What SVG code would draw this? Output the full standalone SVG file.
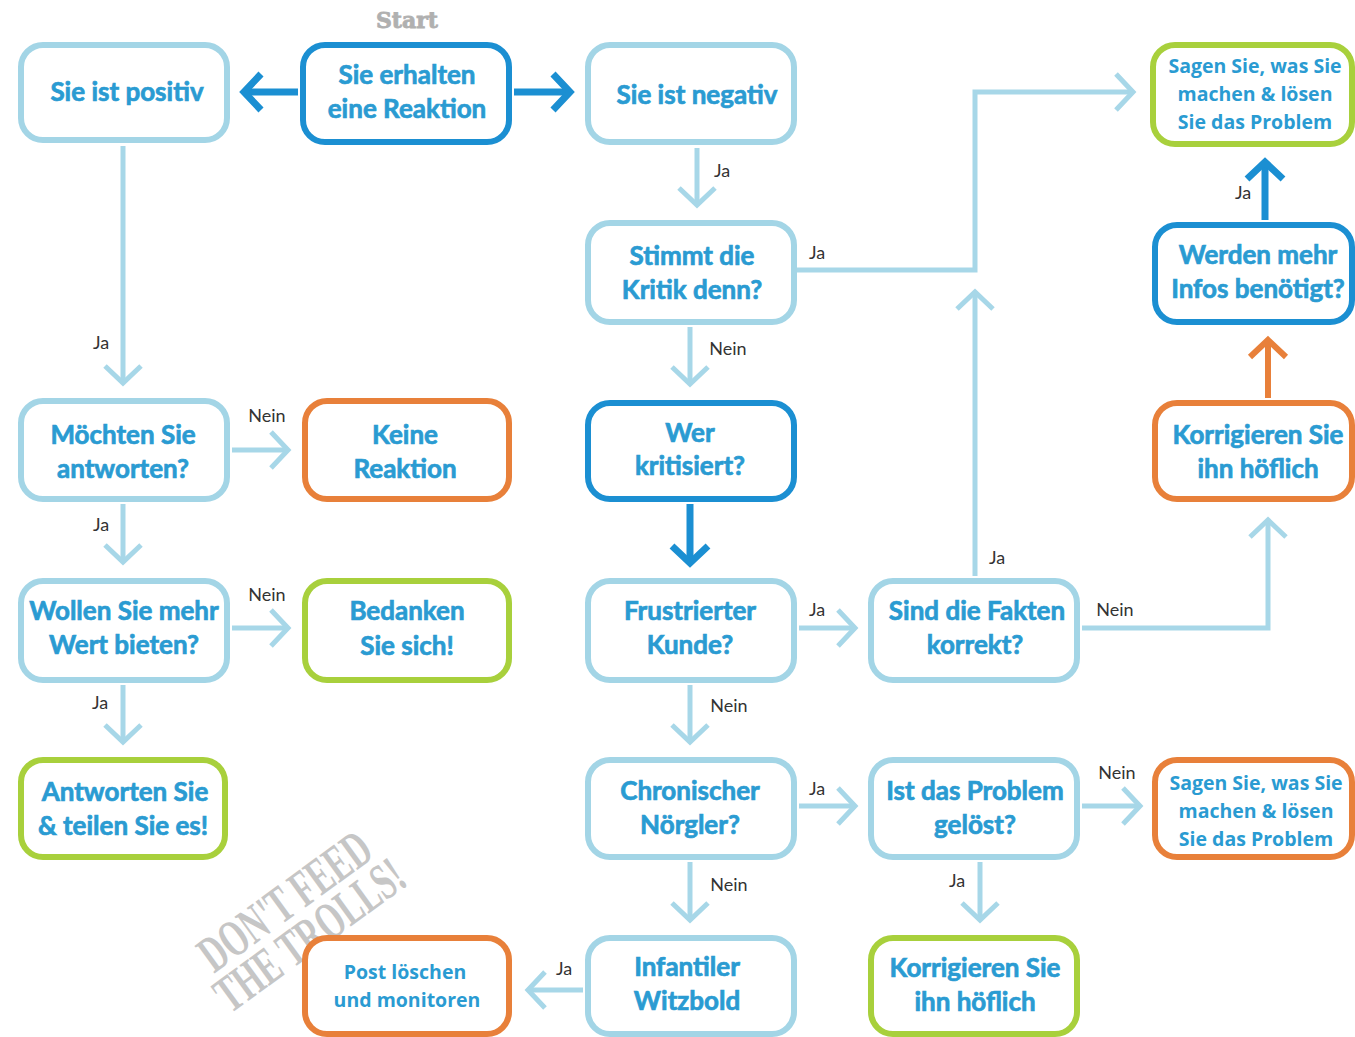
<svg xmlns="http://www.w3.org/2000/svg" width="1355" height="1037" viewBox="0 0 1355 1037">
<style>
.box{fill:#fff;stroke-width:6}
.lb{stroke:#a3d5e6}
.db{stroke:#1b8fd2}
.or{stroke:#e8803a}
.gr{stroke:#a8d03c}
.t{font-family:Lato,"Open Sans",sans-serif;font-weight:bold;font-size:26px;fill:#2a9bd2;stroke:#2a9bd2;stroke-width:0.7;text-anchor:middle}
.s{font-family:"Open Sans",sans-serif;font-weight:bold;font-size:19.5px;fill:#2a9bd2;text-anchor:middle}
.lab{font-family:Lato,sans-serif;font-size:18px;fill:#333;text-anchor:middle}
.c{fill:none;stroke-linejoin:miter}
.cl{stroke:#a7d7e8;stroke-width:5}
.cd{stroke:#1b8fd2;stroke-width:7}
.co{stroke:#e8803a;stroke-width:6}
</style>
<defs>
<marker id="ml" markerUnits="userSpaceOnUse" viewBox="-24 -24 30 48" markerWidth="30" markerHeight="48" refX="0" refY="0" orient="auto"><path d="M-17,-18 L0,0 L-17,18" fill="none" stroke="#a7d7e8" stroke-width="5"/></marker>
<marker id="md" markerUnits="userSpaceOnUse" viewBox="-24 -24 30 48" markerWidth="30" markerHeight="48" refX="0" refY="0" orient="auto"><path d="M-17,-18 L0,0 L-17,18" fill="none" stroke="#1b8fd2" stroke-width="7"/></marker>
<marker id="mo" markerUnits="userSpaceOnUse" viewBox="-24 -24 30 48" markerWidth="30" markerHeight="48" refX="0" refY="0" orient="auto"><path d="M-17,-18 L0,0 L-17,18" fill="none" stroke="#e8803a" stroke-width="6"/></marker>
</defs>
<rect width="1355" height="1037" fill="#fff"/>
<text x="407" y="28" font-family="'DejaVu Serif',serif" font-weight="bold" font-size="22" fill="#b0b0b0" stroke="#b0b0b0" stroke-width="0.8" text-anchor="middle">Start</text>
<g id="watermark" transform="translate(295,915) rotate(-36)" fill="#b3b3b3" opacity="0.75" font-family="'Liberation Serif',serif" font-weight="bold" font-size="52" text-anchor="middle">
<text x="0" y="0" textLength="200" lengthAdjust="spacingAndGlyphs">DON'T FEED</text>
<text x="0" y="42" textLength="222" lengthAdjust="spacingAndGlyphs">THE TROLLS!</text>
</g>
<g id="connectors" class="c">
<path class="cd" d="M298,92 H244" marker-end="url(#md)"/>
<path class="cd" d="M514,92 H570" marker-end="url(#md)"/>
<path class="cl" d="M123,146 V383" marker-end="url(#ml)"/>
<path class="cl" d="M697,148 V205" marker-end="url(#ml)"/>
<path class="cl" d="M797,270 H975 V92 H1133" marker-end="url(#ml)"/>
<path class="cl" d="M690,327 V384" marker-end="url(#ml)"/>
<path class="cd" d="M690,504 V563" marker-end="url(#md)"/>
<path class="cl" d="M232,450 H288" marker-end="url(#ml)"/>
<path class="cl" d="M123,504 V562" marker-end="url(#ml)"/>
<path class="cl" d="M232,628 H288" marker-end="url(#ml)"/>
<path class="cl" d="M123,685 V742" marker-end="url(#ml)"/>
<path class="cl" d="M799,628 H855" marker-end="url(#ml)"/>
<path class="cl" d="M975,576 V292" marker-end="url(#ml)"/>
<path class="cl" d="M1082,628 H1268 V520" marker-end="url(#ml)"/>
<path class="co" d="M1268,398 V340" marker-end="url(#mo)"/>
<path class="cd" d="M1265,220 V162" marker-end="url(#md)"/>
<path class="cl" d="M690,685 V742" marker-end="url(#ml)"/>
<path class="cl" d="M799,806 H855" marker-end="url(#ml)"/>
<path class="cl" d="M1082,806 H1140" marker-end="url(#ml)"/>
<path class="cl" d="M980,862 V920" marker-end="url(#ml)"/>
<path class="cl" d="M690,862 V920" marker-end="url(#ml)"/>
<path class="cl" d="M583,990 H528" marker-end="url(#ml)"/>
<text class="lab" x="101" y="349">Ja</text>
<text class="lab" x="722" y="177">Ja</text>
<text class="lab" x="817" y="259">Ja</text>
<text class="lab" x="728" y="355">Nein</text>
<text class="lab" x="1243" y="199">Ja</text>
<text class="lab" x="267" y="422">Nein</text>
<text class="lab" x="101" y="531">Ja</text>
<text class="lab" x="267" y="601">Nein</text>
<text class="lab" x="100" y="709">Ja</text>
<text class="lab" x="817" y="616">Ja</text>
<text class="lab" x="997" y="564">Ja</text>
<text class="lab" x="1115" y="616">Nein</text>
<text class="lab" x="729" y="712">Nein</text>
<text class="lab" x="817" y="795">Ja</text>
<text class="lab" x="1117" y="779">Nein</text>
<text class="lab" x="957" y="887">Ja</text>
<text class="lab" x="729" y="891">Nein</text>
<text class="lab" x="564" y="975">Ja</text>
</g>
<g id="n-positiv"><rect class="box lb" x="21" y="45" width="206" height="95" rx="22"/><text class="t" x="127" y="101">Sie ist positiv</text></g>
<g id="n-start"><rect class="box db" x="303" y="45" width="206" height="97" rx="22"/><text class="t" x="407" y="84">Sie erhalten</text><text class="t" x="407" y="118">eine Reaktion</text></g>
<g id="n-negativ"><rect class="box lb" x="588" y="45" width="206" height="97" rx="22"/><text class="t" x="697" y="104">Sie ist negativ</text></g>
<g id="n-sagen1"><rect class="box gr" x="1153" y="45" width="199" height="99" rx="22"/><text class="s" x="1255" y="73">Sagen Sie, was Sie</text><text class="s" x="1255" y="101">machen &amp; lösen</text><text class="s" x="1255" y="129">Sie das Problem</text></g>
<g id="n-stimmt"><rect class="box lb" x="588" y="223" width="206" height="99" rx="22"/><text class="t" x="692" y="265">Stimmt die</text><text class="t" x="692" y="299">Kritik denn?</text></g>
<g id="n-werden"><rect class="box db" x="1155" y="225" width="197" height="97" rx="22"/><text class="t" x="1258" y="264">Werden mehr</text><text class="t" x="1258" y="298">Infos benötigt?</text></g>
<g id="n-moechten"><rect class="box lb" x="21" y="401" width="206" height="98" rx="22"/><text class="t" x="123" y="444">Möchten Sie</text><text class="t" x="123" y="478">antworten?</text></g>
<g id="n-keine"><rect class="box or" x="305" y="401" width="204" height="98" rx="22"/><text class="t" x="405" y="444">Keine</text><text class="t" x="405" y="478">Reaktion</text></g>
<g id="n-wer"><rect class="box db" x="588" y="403" width="206" height="96" rx="22"/><text class="t" x="690" y="442">Wer</text><text class="t" x="690" y="475">kritisiert?</text></g>
<g id="n-korr1"><rect class="box or" x="1155" y="403" width="197" height="96" rx="22"/><text class="t" x="1258" y="444">Korrigieren Sie</text><text class="t" x="1258" y="478">ihn höflich</text></g>
<g id="n-wollen"><rect class="box lb" x="21" y="581" width="206" height="99" rx="22"/><text class="t" x="124" y="620">Wollen Sie mehr</text><text class="t" x="124" y="654">Wert bieten?</text></g>
<g id="n-bedanken"><rect class="box gr" x="305" y="581" width="204" height="99" rx="22"/><text class="t" x="407" y="620">Bedanken</text><text class="t" x="407" y="655">Sie sich!</text></g>
<g id="n-frustriert"><rect class="box lb" x="588" y="581" width="206" height="99" rx="22"/><text class="t" x="690" y="620">Frustrierter</text><text class="t" x="690" y="654">Kunde?</text></g>
<g id="n-fakten"><rect class="box lb" x="871" y="581" width="206" height="99" rx="22"/><text class="t" x="977" y="620">Sind die Fakten</text><text class="t" x="975" y="654">korrekt?</text></g>
<g id="n-antworten"><rect class="box gr" x="21" y="760" width="204" height="97" rx="22"/><text class="t" x="125" y="801">Antworten Sie</text><text class="t" x="123" y="835">&amp; teilen Sie es!</text></g>
<g id="n-chronisch"><rect class="box lb" x="588" y="760" width="206" height="97" rx="22"/><text class="t" x="690" y="800">Chronischer</text><text class="t" x="690" y="834">Nörgler?</text></g>
<g id="n-problem"><rect class="box lb" x="871" y="760" width="206" height="97" rx="22"/><text class="t" x="975" y="800">Ist das Problem</text><text class="t" x="975" y="834">gelöst?</text></g>
<g id="n-sagen2"><rect class="box or" x="1155" y="760" width="197" height="97" rx="22"/><text class="s" x="1256" y="790">Sagen Sie, was Sie</text><text class="s" x="1256" y="818">machen &amp; lösen</text><text class="s" x="1256" y="846">Sie das Problem</text></g>
<g id="n-post"><rect class="box or" x="305" y="938" width="204" height="96" rx="22"/><text class="s" x="405" y="979">Post löschen</text><text class="s" x="407" y="1007">und monitoren</text></g>
<g id="n-infantil"><rect class="box lb" x="588" y="938" width="206" height="96" rx="22"/><text class="t" x="687" y="976">Infantiler</text><text class="t" x="687" y="1010">Witzbold</text></g>
<g id="n-korr2"><rect class="box gr" x="871" y="938" width="206" height="96" rx="22"/><text class="t" x="975" y="977">Korrigieren Sie</text><text class="t" x="975" y="1011">ihn höflich</text></g>
</svg>
